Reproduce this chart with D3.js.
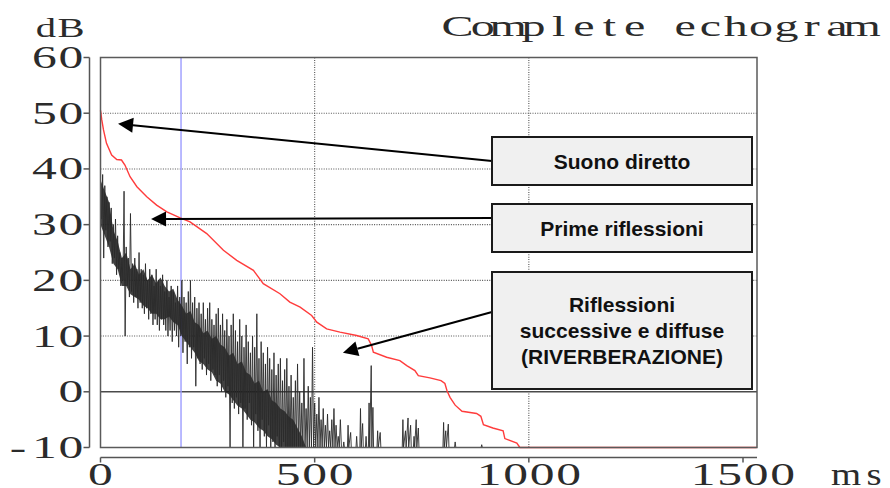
<!DOCTYPE html>
<html>
<head>
<meta charset="utf-8">
<script src="https://cdn.jsdelivr.net/npm/d3@7"></script>
<style>
  body { margin: 0; background: #fff; }
  text { white-space: pre; }
</style>
</head>
<body>
<div id="chart"></div>
<script>
// axis ticks
var yTicks = [60, 50, 40, 30, 20, 10, 0, -10];
var xTicks = [0, 500, 1000, 1500];
var gridDb = [50, 40, 30, 20, 10];
var gridMs = [500, 1000];
var markerMs = 188;

// red decay curve (ms, dB)
var decayMs = [0, 3, 7, 14, 26, 38, 49, 57, 69, 85, 108, 131, 155, 186, 209, 248, 287, 318, 357, 380,
  419, 442, 466, 493, 505, 528, 559, 598, 625, 633, 637, 668, 699, 715, 734, 742, 769, 795, 804, 809,
  816, 828, 844, 878, 888, 894, 916, 940, 944, 972, 979, 1532];
var decayDb = [50.5, 48.8, 47.0, 44.6, 42.5, 41.7, 41.6, 40.7, 38.6, 36.8, 35.0, 33.5, 32.3, 31.2, 30.5, 28.4, 25.4, 23.6, 21.8, 19.4,
  17.6, 16.1, 15.2, 13.7, 12.5, 11.3, 10.7, 10.1, 9.5, 8.3, 7.1, 6.2, 5.6, 4.7, 3.8, 2.9, 2.5, 2.0, 1.5, 0.2,
  -1.0, -2.4, -3.5, -3.9, -4.4, -5.9, -6.5, -7.0, -8.4, -9.2, -10, -10];

// black echogram: time of each sample, its peak and its dip (dB)
var echoMs = [0, 5, 10, 15, 20, 25, 30, 35, 40, 45, 50, 55, 60, 65, 70, 75, 80, 85, 90, 95,
  100, 105, 110, 115, 120, 125, 130, 135, 140, 145, 150, 155, 160, 165, 170, 175, 180, 185, 190, 195,
  200, 205, 210, 215, 220, 225, 230, 235, 240, 245, 250, 255, 260, 265, 270, 275, 280, 285, 290, 295,
  300, 305, 310, 315, 320, 325, 330, 335, 340, 345, 350, 355, 360, 365, 370, 375, 380, 385, 390, 395,
  400, 405, 410, 415, 420, 425, 430, 435, 440, 445, 450, 455, 460, 465, 470, 475, 480, 485, 490, 495,
  500, 505, 510, 515, 520, 525, 530, 535, 540, 545, 550, 555, 560,
  568, 578, 584, 598, 607, 612, 620, 627, 632, 636, 647, 653, 706, 712, 718, 724, 732, 737, 742,
  801, 806, 812, 828, 890];
var echoHigh = [38, 39, 37, 35, 34, 33, 30, 31, 28, 25, 24, 36, 26, 24, 32, 23, 24, 22, 25, 22,
  21, 23, 20, 22, 21, 19, 22, 20, 19, 21, 18, 20, 17, 19, 18, 16, 19, 17, 20, 17,
  16, 18, 20, 16, 17, 15, 16, 14, 16, 13, 15, 16, 13, 12, 14, 15, 12, 14, 11, 13,
  10, 12, 14, 11, 9, 13, 10, 8, 12, 9, 7, 10, 8, 14, 6, 9, 7, 5, 8, 6,
  4, 7, 3, 5, 6, 2, 4, 6, 1, 3, -1, 2, 5, 0, -2, 6, -3, 1, -1, 8,
  -2, -4, -1, -5, -3, -6, -4, -7, -5, -3, -6, -8, -5,
  -9, -6, -7.3, -8, -3, -5.7, -8, -2, 4.7, -2.8, -7, -7.3, -5, -7, -4.7, -6, -8, -5, -6.5,
  -5.5, -7, -5.8, -9, -9.5];
var echoLow = [31, 24, 29, 26, 27, 23, 24, 21, 22, 19, 20, 10, 19, 17, 18, 16, 17, 15, 16, 15,
  14, 15, 13, 14, 12, 13, 12, 11, 13, 12, 11, 10, 11, 9, 11, 10, 8, 10, 7, 9,
  5, 8, 6, 8, 1, 6, 5, 4, 6, 3, 5, 2, 4, 3, 1, 3, 0, 2, -1, 1,
  -10, -2, -3, -1, -4, -2, -10, -3, -5, -2, -6, -10, -4, -7, -10, -5, -8, -10, -6, -10,
  -9, -10, -8, -10, -10, -9, -10, -10, -10, -10, -10, -10, -10, -10, -10, -10, -10, -10, -10, -10,
  -10, -10, -10, -10, -10, -10, -10, -10, -10, -10, -10, -10, -10,
  -10, -10, -10, -10, -10, -10, -10, -10, -10, -10, -10, -10, -10, -10, -10, -10, -10, -10, -10,
  -10, -10, -10, -10, -10];

// dense (near solid) band of the echogram
var coreMs = [0, 10, 20, 30, 40, 50, 60, 70, 80, 90, 100, 110, 120, 130, 140, 150, 160, 170, 180, 190,
  200, 210, 220, 230, 240, 250, 260, 270, 280, 290, 300, 310, 320, 330, 340, 350, 360, 370, 380, 390,
  400, 410, 420, 430, 440, 450, 460, 470, 480];
var coreHigh = [38, 36, 34, 29, 27, 24, 25, 22, 23, 21, 22, 20, 21, 19.5, 20.5, 19, 18, 18.5, 16.5, 15.5,
  14, 14.5, 12.5, 12, 10.5, 11, 9.5, 10, 8.5, 8, 6.5, 7, 5, 5.5, 3.5, 3, 1.5, 2, 0, 0.5,
  -1.5, -2, -3, -3.5, -4.5, -5, -6.5, -8, -10];
var coreLow = [30, 28, 26, 23, 22, 19, 19, 17.5, 17, 16.5, 15.5, 15, 14, 14, 13, 13, 13.5, 12.5, 12, 10,
  9, 8, 7, 5.5, 5, 4, 3.5, 2, 1.5, 0, -0.5, -1.5, -2.5, -3, -4, -5, -5.5, -6.5, -7, -8,
  -8.5, -9.5, -10, -10, -10, -10, -10, -10, -10];

// annotations: label lines, arrow tip (ms, dB), box in pixels
var noteLines = [["Suono diretto"], ["Prime riflessioni"], ["Riflessioni", "successive e diffuse", "(RIVERBERAZIONE)"]];
var noteTipMs = [41, 118, 566];
var noteTipDb = [48.1, 31.0, 7.0];
var noteBoxTop = [137, 204, 272];
var noteBoxBottom = [185, 252, 389];
var noteStartY = [161, 218, 312];

var width = 890, height = 488;
var svg = d3.select("#chart").append("svg")
  .attr("width", width)
  .attr("height", height);

var x = d3.scaleLinear().domain([0, 1500]).range([100.5, 743]);
var y = d3.scaleLinear().domain([-10, 60]).range([447.5, 57.5]);
var xMax = x.invert(757);

var serif = "'Liberation Serif', 'Times New Roman', serif";
var textColor = "#2b2b2b";

// spaced out, stretched characters like the old plotter font
function monoText(g, str, cx0, baseY, pitch, size, sx) {
  g.append("text")
    .attr("transform", "translate(" + cx0 + "," + baseY + ") scale(" + sx + ",1)")
    .attr("x", str.split("").map(function (c, i) { return (i * pitch / sx).toFixed(2); }).join(" "))
    .attr("text-anchor", "middle")
    .attr("font-family", serif)
    .attr("font-size", size)
    .attr("fill", textColor)
    .text(str);
}

// grid
var grid = svg.append("g");
grid.selectAll(".hgrid").data(gridDb).enter().append("line")
  .attr("x1", x(0)).attr("x2", x(xMax))
  .attr("y1", function (d) { return y(d); }).attr("y2", function (d) { return y(d); })
  .attr("stroke", "#555").attr("stroke-width", 1.1).attr("stroke-dasharray", "1,1.4");
grid.selectAll(".vgrid").data(gridMs).enter().append("line")
  .attr("x1", function (d) { return x(d); }).attr("x2", function (d) { return x(d); })
  .attr("y1", y(60)).attr("y2", y(-10))
  .attr("stroke", "#555").attr("stroke-width", 1.1).attr("stroke-dasharray", "1,1.4");
grid.append("line")
  .attr("x1", x(0)).attr("x2", x(xMax))
  .attr("y1", y(0)).attr("y2", y(0))
  .attr("stroke", "#4a4a4a").attr("stroke-width", 1.6);
grid.append("line")
  .attr("x1", x(markerMs)).attr("x2", x(markerMs))
  .attr("y1", y(60)).attr("y2", y(-10))
  .attr("stroke", "#9c9cff").attr("stroke-width", 1.4);

var line = d3.line()
  .x(function (d) { return x(d[0]); })
  .y(function (d) { return y(Math.max(-10, d[1])); });

// echogram: dense band then zigzag spikes
svg.append("path")
  .datum(coreMs.map(function (t, i) { return [t, coreHigh[i], coreLow[i]]; }))
  .attr("fill", "#111")
  .attr("fill-opacity", 0.8)
  .attr("d", d3.area()
    .x(function (d) { return x(d[0]); })
    .y0(function (d) { return y(d[2]); })
    .y1(function (d) { return y(d[1]); }));

var echoPts = [];
echoMs.forEach(function (t, i) {
  if (i > 0 && t - echoMs[i - 1] > 6) echoPts.push([t - 1.5, -10]);
  echoPts.push([t, echoHigh[i]]);
  echoPts.push([t + (i < 113 ? 2.5 : 1.5), echoLow[i]]);
});
svg.append("path")
  .datum(echoPts)
  .attr("fill", "none")
  .attr("stroke", "#2a2a2a")
  .attr("stroke-width", 0.9)
  .attr("d", line);

// decay curve
svg.append("path")
  .datum(decayMs.map(function (t, i) { return [t, decayDb[i]]; }))
  .attr("fill", "none")
  .attr("stroke", "#ff3c3c")
  .attr("stroke-width", 1.4)
  .attr("d", line);

// plot frame
svg.append("rect")
  .attr("x", x(0)).attr("y", y(60))
  .attr("width", x(xMax) - x(0)).attr("height", y(-10) - y(60))
  .attr("fill", "none").attr("stroke", "#5a5a5a").attr("stroke-width", 1.5);

// y axis (detached)
var yAxis = svg.append("g").attr("transform", "translate(89.5,0)");
yAxis.append("line").attr("x1", 0).attr("x2", 0).attr("y1", y(60)).attr("y2", y(-10))
  .attr("stroke", "#555").attr("stroke-width", 1.5);
yAxis.selectAll(".tk").data(yTicks).enter().append("line")
  .attr("x1", -6).attr("x2", 0)
  .attr("y1", function (d) { return y(d); }).attr("y2", function (d) { return y(d); })
  .attr("stroke", "#555").attr("stroke-width", 1.5);
yTicks.forEach(function (d) {
  var s = String(d);
  monoText(svg, s, 71 - (s.length - 1) * 26.5, y(d) + 10.5, 26.5, 31, 1.6);
});
monoText(svg, "dB", 46, 36.5, 25, 28, 1.45);

// x axis (detached)
var xAxis = svg.append("g").attr("transform", "translate(0,457.5)");
xAxis.append("line").attr("x1", x(0)).attr("x2", x(xMax)).attr("y1", 0).attr("y2", 0)
  .attr("stroke", "#555").attr("stroke-width", 1.5);
xAxis.selectAll(".tk").data(xTicks).enter().append("line")
  .attr("x1", function (d) { return x(d); }).attr("x2", function (d) { return x(d); })
  .attr("y1", 0).attr("y2", 5)
  .attr("stroke", "#555").attr("stroke-width", 1.5);
xTicks.forEach(function (d) {
  var s = String(d);
  monoText(svg, s, x(d) - (s.length - 1) * 26.5 / 2, 485, 26.5, 31, 1.6);
});
monoText(svg, "ms", 846, 485, 28, 31, 1.25);

// title
monoText(svg, "Complete echogram", 457.5, 36, 25.3, 30, 1.6);

// annotation boxes and arrows
var notes = svg.append("g");
noteLines.forEach(function (lines, i) {
  var bx = 492, bw = 260;
  var top = noteBoxTop[i], bot = noteBoxBottom[i];
  var tx = x(noteTipMs[i]), ty = y(noteTipDb[i]);
  var sx = bx, sy = noteStartY[i];
  var ang = Math.atan2(ty - sy, tx - sx);
  var hl = 15, hw = 7.5;
  var bxp = tx - hl * Math.cos(ang), byp = ty - hl * Math.sin(ang);
  notes.append("line")
    .attr("x1", sx).attr("y1", sy).attr("x2", bxp).attr("y2", byp)
    .attr("stroke", "#000").attr("stroke-width", 2);
  notes.append("polygon")
    .attr("points", [
      [tx, ty],
      [bxp + hw * Math.sin(ang), byp - hw * Math.cos(ang)],
      [bxp - hw * Math.sin(ang), byp + hw * Math.cos(ang)]
    ].map(function (p) { return p.join(","); }).join(" "))
    .attr("fill", "#000");
  notes.append("rect")
    .attr("x", bx).attr("y", top).attr("width", bw).attr("height", bot - top)
    .attr("fill", "#f0f0f0").attr("stroke", "#1a1a1a").attr("stroke-width", 2);
  var cy = (top + bot) / 2, lh = 26;
  lines.forEach(function (s, j) {
    notes.append("text")
      .attr("x", bx + bw / 2)
      .attr("y", cy + (j - (lines.length - 1) / 2) * lh + 7.5)
      .attr("text-anchor", "middle")
      .attr("font-family", "'Liberation Sans', Arial, sans-serif")
      .attr("font-weight", "bold")
      .attr("font-size", 21)
      .attr("fill", "#111")
      .text(s);
  });
});
</script>
</body>
</html>
